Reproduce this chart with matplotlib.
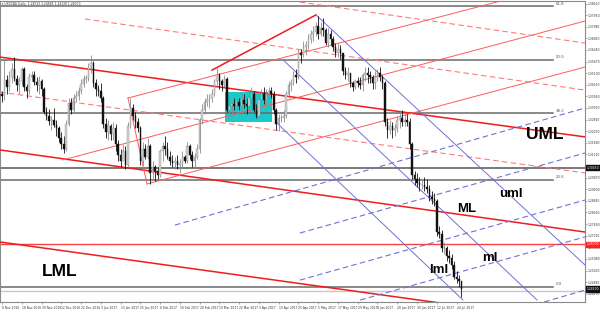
import matplotlib
matplotlib.use("Agg")
import matplotlib.pyplot as plt
import numpy as np
import pandas as pd

# USDCAD daily, 8 Nov 2016 - 26 Jul 2017 (open = previous close)
first_open = 1.3410
highs = [
    1.3420, 1.3585, 1.3500, 1.3520, 1.3560, 1.3588, 1.3500, 1.3490, 1.3540, 1.3540, 1.3455, 1.3510, 1.3520, 1.3520, 1.3490, 1.3495, 1.3480,
    1.3440, 1.3345, 1.3335, 1.3300, 1.3340, 1.3280, 1.3250, 1.3220, 1.3200, 1.3280, 1.3390, 1.3390, 1.3410, 1.3420, 1.3440, 1.3480, 1.3500, 1.3500, 1.3560, 1.3598, 1.3570, 1.3480,
    1.3450, 1.3460, 1.3400, 1.3290, 1.3280, 1.3260, 1.3270, 1.3260, 1.3180, 1.3140, 1.3160, 1.3150, 1.3270, 1.3390, 1.3360, 1.3320, 1.3290, 1.3250, 1.3170, 1.3160, 1.3190, 1.3160,
    1.3080, 1.3060, 1.3050, 1.3140, 1.3170, 1.3200, 1.3170, 1.3130, 1.3110, 1.3100, 1.3110, 1.3090, 1.3130, 1.3110, 1.3170, 1.3160, 1.3130, 1.3120, 1.3160, 1.3290,
    1.3360, 1.3390, 1.3410, 1.3410, 1.3430, 1.3480, 1.3535, 1.3510, 1.3480, 1.3500, 1.3490, 1.3370, 1.3370, 1.3390, 1.3380, 1.3390, 1.3410, 1.3410, 1.3390, 1.3420, 1.3440, 1.3420, 1.3360,
    1.3400, 1.3430, 1.3440, 1.3430, 1.3440, 1.3440, 1.3420, 1.3340, 1.3310, 1.3310, 1.3330, 1.3420, 1.3470, 1.3480, 1.3520, 1.3530, 1.3630, 1.3630, 1.3670, 1.3670,
    1.3700, 1.3720, 1.3740, 1.3760, 1.3793, 1.3760, 1.3780, 1.3730, 1.3730, 1.3720, 1.3690, 1.3660, 1.3660, 1.3650, 1.3610, 1.3540, 1.3540, 1.3510, 1.3470, 1.3480, 1.3490, 1.3490, 1.3510,
    1.3540, 1.3540, 1.3520, 1.3500, 1.3520, 1.3530, 1.3540, 1.3500, 1.3470, 1.3290, 1.3280, 1.3270, 1.3260, 1.3300, 1.3330, 1.3330, 1.3320, 1.3310, 1.3290, 1.3170, 1.3030, 1.3020,
    1.3000, 1.2990, 1.3000, 1.2990, 1.2960, 1.2930, 1.2920, 1.2890, 1.2760, 1.2740, 1.2680, 1.2660, 1.2640, 1.2620, 1.2590, 1.2540, 1.2520, 1.2490,
]
lows = [
    1.3370, 1.3380, 1.3410, 1.3420, 1.3460, 1.3470, 1.3420, 1.3410, 1.3450, 1.3420, 1.3390, 1.3410, 1.3470, 1.3450, 1.3420, 1.3410, 1.3400,
    1.3310, 1.3280, 1.3255, 1.3230, 1.3245, 1.3200, 1.3170, 1.3140, 1.3120, 1.3130, 1.3250, 1.3310, 1.3320, 1.3370, 1.3380, 1.3410, 1.3440, 1.3460, 1.3470, 1.3510, 1.3440, 1.3400,
    1.3400, 1.3370, 1.3240, 1.3190, 1.3180, 1.3180, 1.3180, 1.3130, 1.3080, 1.3050, 1.3090, 1.3040, 1.3050, 1.3240, 1.3280, 1.3240, 1.3220, 1.3060, 1.3060, 1.3090, 1.3090, 1.2968,
    1.2990, 1.2980, 1.2990, 1.3000, 1.3080, 1.3110, 1.3090, 1.3060, 1.3050, 1.3040, 1.3040, 1.3020, 1.3050, 1.3070, 1.3070, 1.3090, 1.3050, 1.3050, 1.3090, 1.3120,
    1.3260, 1.3310, 1.3350, 1.3340, 1.3370, 1.3400, 1.3450, 1.3430, 1.3420, 1.3440, 1.3320, 1.3310, 1.3310, 1.3330, 1.3320, 1.3330, 1.3330, 1.3340, 1.3310, 1.3330, 1.3360, 1.3320, 1.3290,
    1.3290, 1.3360, 1.3360, 1.3350, 1.3380, 1.3390, 1.3310, 1.3230, 1.3225, 1.3270, 1.3270, 1.3290, 1.3390, 1.3420, 1.3450, 1.3460, 1.3480, 1.3560, 1.3590, 1.3600,
    1.3630, 1.3660, 1.3670, 1.3690, 1.3680, 1.3690, 1.3690, 1.3650, 1.3640, 1.3650, 1.3620, 1.3590, 1.3590, 1.3580, 1.3500, 1.3480, 1.3470, 1.3440, 1.3420, 1.3430, 1.3440, 1.3430, 1.3420,
    1.3470, 1.3460, 1.3460, 1.3430, 1.3430, 1.3470, 1.3470, 1.3430, 1.3250, 1.3190, 1.3210, 1.3190, 1.3200, 1.3220, 1.3240, 1.3250, 1.3250, 1.3250, 1.3140, 1.2990, 1.2960, 1.2950,
    1.2930, 1.2940, 1.2930, 1.2920, 1.2880, 1.2870, 1.2860, 1.2710, 1.2700, 1.2630, 1.2620, 1.2590, 1.2580, 1.2550, 1.2500, 1.2480, 1.2460, 1.2413,
]
closes = [
    1.3400, 1.3475, 1.3440, 1.3490, 1.3530, 1.3480, 1.3450, 1.3470, 1.3530, 1.3440, 1.3420, 1.3490, 1.3500, 1.3465, 1.3450, 1.3470, 1.3430,
    1.3320, 1.3300, 1.3275, 1.3280, 1.3255, 1.3240, 1.3190, 1.3160, 1.3140, 1.3260, 1.3365, 1.3330, 1.3390, 1.3400, 1.3420, 1.3455, 1.3480, 1.3485, 1.3540, 1.3560, 1.3460, 1.3430,
    1.3420, 1.3390, 1.3260, 1.3220, 1.3250, 1.3210, 1.3240, 1.3160, 1.3110, 1.3080, 1.3130, 1.3060, 1.3250, 1.3340, 1.3300, 1.3270, 1.3240, 1.3080, 1.3140, 1.3100, 1.3150, 1.3020,
    1.3050, 1.3030, 1.3010, 1.3130, 1.3150, 1.3140, 1.3100, 1.3080, 1.3070, 1.3080, 1.3060, 1.3070, 1.3100, 1.3080, 1.3150, 1.3110, 1.3080, 1.3100, 1.3140, 1.3280,
    1.3330, 1.3370, 1.3380, 1.3390, 1.3410, 1.3470, 1.3500, 1.3470, 1.3450, 1.3480, 1.3330, 1.3350, 1.3360, 1.3350, 1.3370, 1.3350, 1.3380, 1.3360, 1.3350, 1.3390, 1.3410, 1.3330, 1.3300,
    1.3380, 1.3410, 1.3380, 1.3410, 1.3420, 1.3410, 1.3330, 1.3260, 1.3290, 1.3290, 1.3300, 1.3410, 1.3450, 1.3460, 1.3500, 1.3490, 1.3610, 1.3600, 1.3640, 1.3650,
    1.3680, 1.3700, 1.3710, 1.3740, 1.3700, 1.3730, 1.3720, 1.3660, 1.3700, 1.3680, 1.3640, 1.3610, 1.3630, 1.3610, 1.3520, 1.3500, 1.3510, 1.3460, 1.3440, 1.3470, 1.3460, 1.3450, 1.3500,
    1.3510, 1.3500, 1.3490, 1.3460, 1.3490, 1.3510, 1.3490, 1.3460, 1.3270, 1.3230, 1.3250, 1.3230, 1.3240, 1.3280, 1.3290, 1.3270, 1.3280, 1.3270, 1.3160, 1.3010, 1.2990, 1.2970,
    1.2960, 1.2960, 1.2950, 1.2940, 1.2900, 1.2890, 1.2880, 1.2730, 1.2720, 1.2650, 1.2650, 1.2610, 1.2600, 1.2570, 1.2510, 1.2500, 1.2490, 1.2450,
]

# fibonacci levels (1.4690 -> 1.2460) and other horizontal levels
fib_names = ["61.8", "50.0", "38.2", "23.6", "0.0"]
fib_prices = [1.3838, 1.3575, 1.3312, 1.2986, 1.2460]
level_black = 1.3045
level_red = 1.2670
last_price = 1.2450

# drawn tools: (bar0, price0, bar1, price1)
red_fork = [(-0.8, 1.3589, 236.0, 1.3197),   # UML
            (-0.8, 1.3133, 236.0, 1.2730),   # ML
            (-0.8, 1.2681, 236.0, 1.2283),   # LML
            (85.0, 1.3525, 127.1, 1.3796)]
red_thin = [(24.7, 1.3084, 236.0, 1.3766),
            (51.0, 1.3388, 236.0, 1.3972),
            (58.7, 1.2966, 236.0, 1.3540),
            (51.0, 1.3388, 58.7, 1.2966)]
red_dash = [(-0.8, 1.3417, 236.0, 1.3020),
            (33.6, 1.3776, 236.0, 1.3427),
            (120.6, 1.3859, 236.0, 1.3658)]
blue_fork = [(127.1, 1.3796, 236.0, 1.2568),
             (113.8, 1.3575, 216.6, 1.2396),
             (111.3, 1.3265, 186.6, 1.2396)]
blue_dash = [(70.0, 1.2764, 236.0, 1.3339),
             (120.6, 1.2725, 236.0, 1.3118),
             (120.6, 1.2494, 236.0, 1.2887),
             (145.0, 1.2396, 236.0, 1.2706),
             (205.7, 1.2338, 236.0, 1.2445)]
box = (90.3, 1.3270, 109.3, 1.3417)

labels_big = [("UML", 219.8, 1.3211, 12.5), ("ML", 188.0, 1.2843, 9.5),
              ("LML", 23.5, 1.2534, 12.5)]
labels_small = [("uml", 206.1, 1.2917), ("ml", 197.6, 1.2602), ("lml", 176.9, 1.2543)]

dates = pd.bdate_range("2016-11-08", periods=len(closes))
opens = [first_open] + closes[:-1]
n = len(closes)
x = np.arange(n)

fig = plt.figure(figsize=(6, 3.13), dpi=100)
ax = fig.add_axes([0, 11 / 313, 585 / 600, 301 / 313])
ax.set_xlim(-0.8, 236.0)
ax.set_ylim(1.23864, 1.38643)

# cyan range box
ax.add_patch(plt.Rectangle((box[0], box[1]), box[2] - box[0], box[3] - box[1],
                           color="#1ec8c8", zorder=1, lw=0))

# horizontal levels
for nm, p in zip(fib_names, fib_prices):
    ax.plot([-0.8, 223], [p, p], color="#6a6a6a", lw=1.1, zorder=2)
    ax.text(224, p + 0.0003, nm, fontsize=2.8, color="#555555", va="bottom", ha="left")
ax.axhline(level_black, color="#555555", lw=1.1, zorder=2)
ax.axhline(level_red, color="#ff4040", lw=1.0, zorder=2)
ax.axhline(last_price - 0.0008, color="#c8c8c8", lw=1.0, zorder=2)

for b0, p0, b1, p1 in red_fork:
    ax.plot([b0, b1], [p0, p1], color="#ee1c1c", lw=1.1, zorder=3)
for b0, p0, b1, p1 in red_thin:
    ax.plot([b0, b1], [p0, p1], color="#ff5a5a", lw=0.7, zorder=3)
for b0, p0, b1, p1 in red_dash:
    ax.plot([b0, b1], [p0, p1], color="#ff7a7a", lw=0.8, ls=(0, (5, 3)), zorder=3)
for b0, p0, b1, p1 in blue_fork:
    ax.plot([b0, b1], [p0, p1], color="#7070d8", lw=0.7, zorder=3)
for b0, p0, b1, p1 in blue_dash:
    ax.plot([b0, b1], [p0, p1], color="#7070d8", lw=0.8, ls=(0, (5, 3)), zorder=3)

# candles
o = np.array(opens); c = np.array(closes); h = np.array(highs); l = np.array(lows)
up = c >= o
ax.vlines(x[up], l[up], h[up], color="#8c8c8c", lw=0.6, zorder=4)
ax.vlines(x[~up], l[~up], h[~up], color="#111111", lw=0.6, zorder=4)
body_lo = np.minimum(o, c)
body_h = np.maximum(np.abs(c - o), 0.0002)
ax.bar(x[up], body_h[up], bottom=body_lo[up], width=0.65, color="#d4d4d4",
       edgecolor="#8c8c8c", lw=0.3, zorder=5)
ax.bar(x[~up], body_h[~up], bottom=body_lo[~up], width=0.65, color="#111111",
       edgecolor="#111111", lw=0.3, zorder=5)

for t, b, p, fs in labels_big:
    ax.text(b, p, t, fontsize=fs, fontweight="bold", family="Liberation Sans",
            ha="center", va="center", color="black", zorder=6)
for t, b, p in labels_small:
    ax.text(b, p, t, fontsize=9.5, fontweight="bold", family="Liberation Sans",
            ha="center", va="center", color="black", zorder=6)

# axes styling
for s in ax.spines.values():
    s.set_color("#8a8a8a")
    s.set_linewidth(0.8)
ax.yaxis.tick_right()
yt = np.arange(1.3852, 1.2395, -0.0057)
ax.set_yticks(yt)
ax.set_yticklabels(["%.5f" % v for v in yt], fontsize=2.2, color="#333333")
ax.tick_params(axis="y", length=1.2, width=0.5, color="#8a8a8a", pad=0.6)
xt = x[::8]
ax.set_xticks(xt)
ax.set_xticklabels([d.strftime("%-d %b %Y") for d in dates[::8]], fontsize=2.2,
                   color="#333333", ha="left")
ax.tick_params(axis="x", length=1.5, width=0.5, color="#8a8a8a", pad=1.5)

# price boxes on the right scale
for p, fc in [(level_black, "#111111"), (level_red, "#ff2020"), (last_price, "#111111")]:
    ax.text(1.003, (p - 1.23864) / (1.38643 - 1.23864), "%.5f" % p,
            transform=ax.transAxes, fontsize=2.2, color="white", va="center", ha="left",
            bbox=dict(boxstyle="square,pad=0.2", fc=fc, ec=fc), clip_on=False, zorder=7)

ax.text(0.004, 0.996, "\u25be USDCAD,Daily  1.24533 1.24685 1.24138 1.24500",
        transform=ax.transAxes, fontsize=2.2, color="#333333", va="top", ha="left")

fig.savefig("out.png", dpi=100, facecolor="white")
